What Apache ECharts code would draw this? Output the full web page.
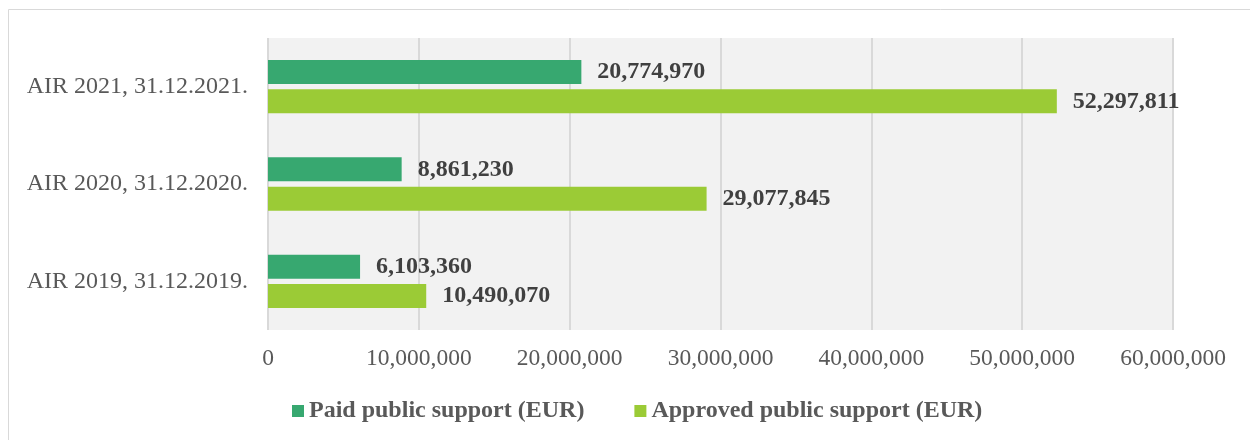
<!DOCTYPE html>
<html><head><meta charset="utf-8">
<script src="https://cdn.jsdelivr.net/npm/echarts@6/dist/echarts.min.js"></script>
<style>html,body{margin:0;padding:0;background:#fff}#c{width:1250px;height:440px}</style>
</head><body><div id="c"></div>
<script>
const categories = ['AIR 2021, 31.12.2021.', 'AIR 2020, 31.12.2020.', 'AIR 2019, 31.12.2019.'];
const paid = [20774970, 8861230, 6103360];
const approved = [52297811, 29077845, 10490070];
const seriesNames = ['Paid public support (EUR)', 'Approved public support (EUR)'];
const xTicks = [0, 10000000, 20000000, 30000000, 40000000, 50000000, 60000000];

const fmt = v => v.toLocaleString('en-US');
const font = '"Liberation Serif", "Times New Roman", serif';
const chart = echarts.init(document.getElementById('c'));
const labelCfg = {show:true, position:'right', distance:16, fontFamily:font, fontSize:24, fontWeight:'bold', color:'#404040', formatter:p=>fmt(p.value)};
chart.setOption({
  animation:false,
  graphic:[{type:'rect', shape:{x:8.5,y:9.5,width:1260,height:460}, style:{fill:'none', stroke:'#d9d9d9', lineWidth:1}, silent:true}],
  grid:{left:268, right:77, top:38, bottom:110, show:true, backgroundColor:'#f2f2f2', borderWidth:0},
  legend:{top:394, left:287, itemWidth:12, itemHeight:12, itemGap:50, icon:'rect',
    textStyle:{fontFamily:font, fontSize:24, fontWeight:'bold', color:'#595959'}, data:seriesNames},
  xAxis:{type:'value', min:xTicks[0], max:xTicks[xTicks.length-1], interval:10000000,
    axisLine:{show:false}, axisTick:{show:false},
    splitLine:{show:true, lineStyle:{color:'#d9d9d9', width:2}},
    axisLabel:{fontFamily:font, fontSize:23.5, color:'#595959', margin:17, formatter:v=>fmt(v)}},
  yAxis:{type:'category', data:categories, inverse:true,
    axisLine:{show:false}, axisTick:{show:false},
    axisLabel:{fontFamily:font, fontSize:24, color:'#595959', margin:20}},
  series:[
    {name:seriesNames[0], type:'bar', data:paid, barWidth:24, barGap:'22%', itemStyle:{color:'#37a870'}, label:labelCfg},
    {name:seriesNames[1], type:'bar', data:approved, barWidth:24, itemStyle:{color:'#9bcb36'}, label:labelCfg}
  ]
});
</script></body></html>
